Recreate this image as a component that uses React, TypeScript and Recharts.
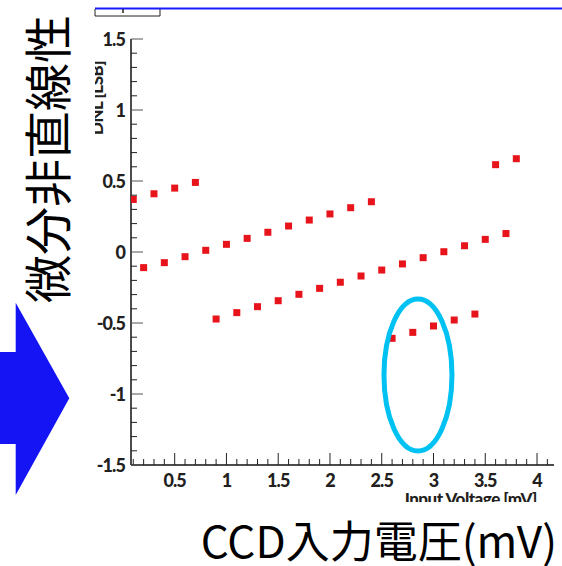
import { ScatterChart, Scatter, XAxis, YAxis, ReferenceDot } from 'recharts'

// input voltage steps [mV]
const VOLTAGE = [
  0.1, 0.2, 0.3, 0.4, 0.5, 0.6, 0.7, 0.8, 0.9, 1.0,
  1.1, 1.2, 1.3, 1.4, 1.5, 1.6, 1.7, 1.8, 1.9, 2.0,
  2.1, 2.2, 2.3, 2.4, 2.5, 2.6, 2.7, 2.8, 2.9, 3.0,
  3.1, 3.2, 3.3, 3.4, 3.5, 3.6, 3.7, 3.8,
]
// DNL [LSB]
const DNL = [
  0.37, -0.11, 0.41, -0.075, 0.45, -0.033, 0.49, 0.012, -0.472, 0.054,
  -0.427, 0.096, -0.385, 0.139, -0.343, 0.183, -0.298, 0.225, -0.256, 0.268,
  -0.213, 0.312, -0.169, 0.354, -0.127, -0.608, -0.084, -0.566, -0.04, -0.521,
  0.002, -0.479, 0.044, -0.437, 0.089, 0.615, 0.13, 0.657,
]

const X_TICKS = [
  0.1, 0.2, 0.3, 0.4, 0.5, 0.6, 0.7, 0.8, 0.9, 1, 1.1, 1.2, 1.3, 1.4, 1.5,
  1.6, 1.7, 1.8, 1.9, 2, 2.1, 2.2, 2.3, 2.4, 2.5, 2.6, 2.7, 2.8, 2.9, 3,
  3.1, 3.2, 3.3, 3.4, 3.5, 3.6, 3.7, 3.8, 3.9, 4, 4.1,
]
const Y_TICKS = [
  -1.5, -1.4, -1.3, -1.2, -1.1, -1, -0.9, -0.8, -0.7, -0.6, -0.5, -0.4, -0.3,
  -0.2, -0.1, 0, 0.1, 0.2, 0.3, 0.4, 0.5, 0.6, 0.7, 0.8, 0.9, 1, 1.1, 1.2,
  1.3, 1.4, 1.5,
]
const X_DOMAIN = [0.078, 4.164]
const Y_DOMAIN = [-1.5, 1.5]

// highlighted region (centre of the cyan ring)
const MARK_X = 2.85
const MARK_Y = -0.866

const TITLE_Y = '微分非直線性'
const TITLE_X = 'CCD入力電圧(mV)'

const data = VOLTAGE.map((v, i) => ({ v, dnl: DNL[i] }))

const TICK_FONT = 'Lato, "Open Sans", sans-serif'
const INK = '#231f20'

function isMajor(v: number) {
  return Math.abs(v * 2 - Math.round(v * 2)) < 1e-9
}

function YTick(props: any) {
  const { x, y, payload } = props
  const major = isMajor(payload.value)
  return (
    <g>
      <line x1={x} x2={x + (major ? 12 : 6)} y1={y} y2={y} stroke={major ? '#555' : '#222'} strokeWidth={1} />
      {major && (
        <text x={x - 6} y={y + 2} textAnchor="end" dominantBaseline="middle"
          fontFamily={TICK_FONT} fontWeight={900} fontSize={18} letterSpacing={-0.9} fill={INK}>
          {String(payload.value)}
        </text>
      )}
    </g>
  )
}

function XTick(props: any) {
  const { x, y, payload } = props
  const major = isMajor(payload.value)
  return (
    <g>
      <line x1={x} x2={x} y1={y} y2={y - (major ? 12 : 6)} stroke="#222" strokeWidth={1} />
      {major && (
        <text x={x} y={y + 22} textAnchor="middle"
          fontFamily={TICK_FONT} fontWeight={900} fontSize={18} letterSpacing={-0.9} fill={INK}>
          {String(payload.value)}
        </text>
      )}
    </g>
  )
}

function SquareDot(props: any) {
  const { cx, cy } = props
  return <rect x={cx - 3.5} y={cy - 3.5} width={7} height={7} fill="#e8141c" />
}

function Ring(props: any) {
  const { cx, cy } = props
  return <ellipse cx={cx} cy={cy} rx={34} ry={76} fill="none" stroke="#00c2f2" strokeWidth={5} />
}

export default function App() {
  return (
    <div style={{ position: 'fixed', left: 0, top: 0, width: 562, height: 566, background: '#fff', overflow: 'hidden' }}>
      <ScatterChart width={562} height={566} margin={{ top: 39, right: 8, bottom: 0, left: 0 }}>
        <XAxis
          type="number"
          dataKey="v"
          domain={X_DOMAIN}
          ticks={X_TICKS}
          interval={0}
          allowDataOverflow
          height={101}
          tickSize={0}
          tickMargin={0}
          tickLine={false}
          axisLine={{ stroke: '#111', strokeWidth: 1.5 }}
          tick={XTick}
        />
        <XAxis xAxisId="top" orientation="top" type="number" domain={X_DOMAIN} height={0}
          tick={false} tickLine={false} axisLine={{ stroke: '#111', strokeWidth: 1 }} />
        <YAxis
          type="number"
          dataKey="dnl"
          domain={Y_DOMAIN}
          ticks={Y_TICKS}
          interval={0}
          allowDataOverflow
          width={131}
          tickSize={0}
          tickMargin={0}
          tickLine={false}
          axisLine={{ stroke: '#111', strokeWidth: 1.5 }}
          tick={YTick}
        />
        <YAxis yAxisId="right" orientation="right" type="number" domain={Y_DOMAIN} width={0}
          tick={false} tickLine={false} axisLine={{ stroke: '#111', strokeWidth: 1.5 }} />
        <Scatter data={data} shape={SquareDot} isAnimationActive={false} />
        <ReferenceDot x={MARK_X} y={MARK_Y} shape={Ring} />
      </ScatterChart>

      <svg width={562} height={566} style={{ position: 'absolute', left: 0, top: 0, pointerEvents: 'none' }}>
        <defs>
          <clipPath id="ylab">
            <rect x={95} y={40} width={20} height={110} />
          </clipPath>
          <clipPath id="xlab">
            <rect x={370} y={490} width={190} height={12} />
          </clipPath>
        </defs>
        {/* leftovers of the original slide around the plot */}
        <line x1={95} x2={562} y1={8.5} y2={8.5} stroke="#1a1aff" strokeWidth={2} />
        <polyline points="95,9 95,16 160,16 160,9" fill="none" stroke="#222" strokeWidth={1} />
        <line x1={123} x2={123} y1={9} y2={13} stroke="#222" strokeWidth={1.5} />
        <polygon points="0,352 15.7,352 15.7,302.7 69.3,398.3 15.7,495 15.7,444 0,444" fill="#1414f5" />

        <g clipPath="url(#ylab)">
          <text transform="translate(103,135) rotate(-90)" x={0} y={0} textAnchor="start"
            fontFamily={TICK_FONT} fontWeight={900} fontSize={17} letterSpacing={-0.5} fill={INK}>
            DNL [LSB]
          </text>
        </g>
        <g clipPath="url(#xlab)">
          <text x={537} y={505} textAnchor="end"
            fontFamily={TICK_FONT} fontWeight={900} fontSize={17} letterSpacing={-0.5} fill={INK}>
            Input Voltage [mV]
          </text>
        </g>

        <text transform="translate(45,159) rotate(-90)" x={0} y={0} textAnchor="middle" dominantBaseline="central"
          fontFamily='"Noto Sans CJK JP", sans-serif' fontSize={48} fill="#000">
          {TITLE_Y}
        </text>
        <text x={557} y={558} textAnchor="end"
          fontFamily='"Noto Sans CJK JP", sans-serif' fontSize={44} fill="#000">
          {TITLE_X}
        </text>
      </svg>
    </div>
  )
}
